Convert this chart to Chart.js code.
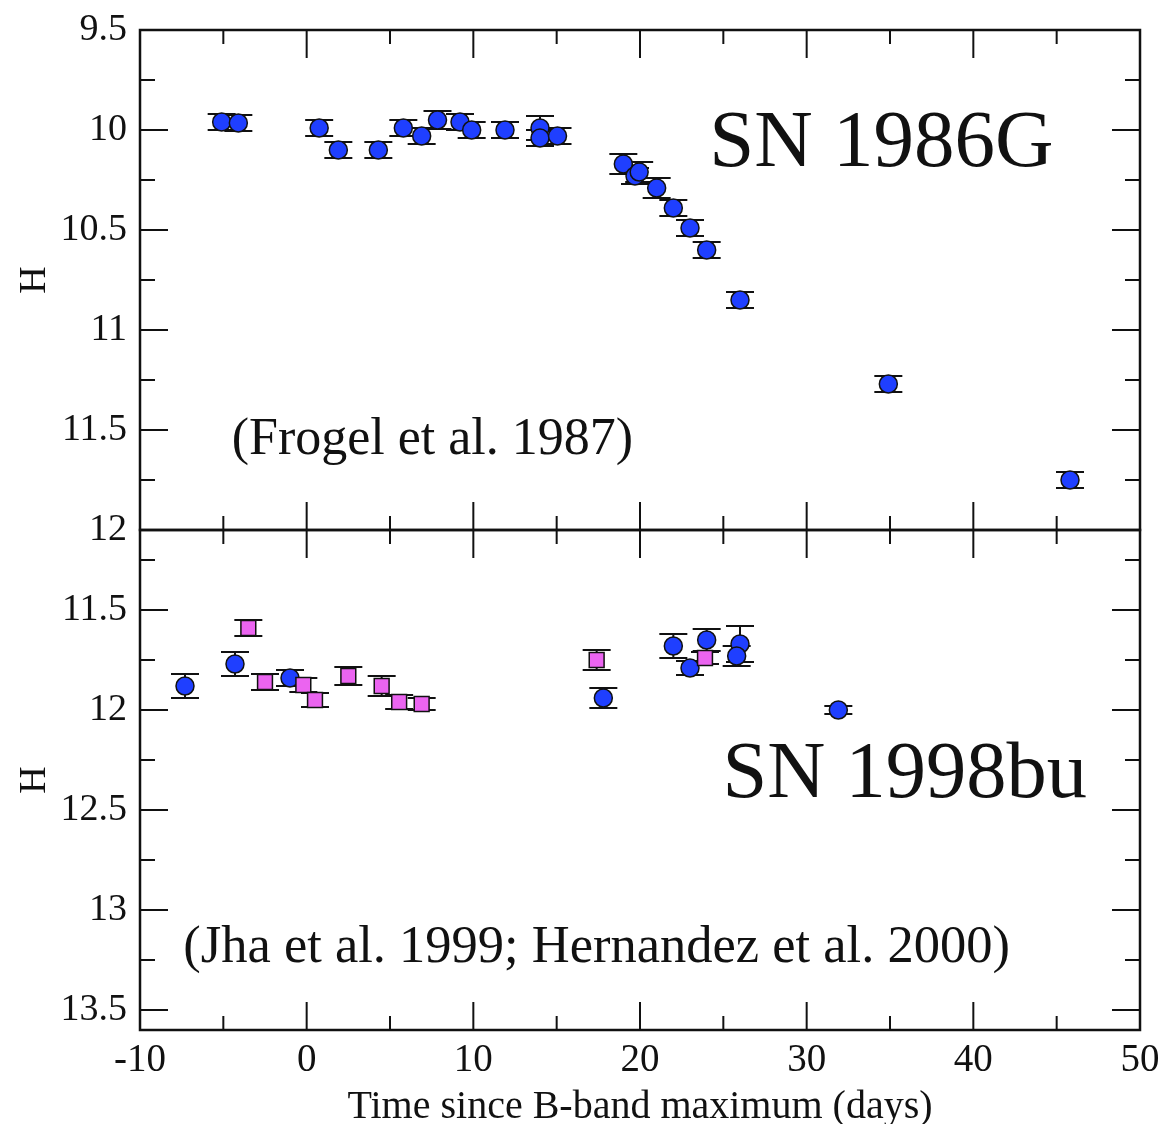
<!DOCTYPE html>
<html>
<head>
<meta charset="utf-8">
<script src="https://cdn.jsdelivr.net/npm/chart.js@4.4.1/dist/chart.umd.min.js"></script>
<style>
    html, body { margin: 0; padding: 0; background: #fff; }
    #wrap { position: relative; width: 1163px; height: 1124px; }
    .panel { position: absolute; left: 0; width: 1163px; }
    #topPanel { top: 0; height: 560px; }
    #botPanel { top: 500px; height: 624px; }
</style>
</head>
<body>
<div id="wrap">
    <div class="panel" id="topPanel"><canvas id="topChart"></canvas></div>
    <div class="panel" id="botPanel"><canvas id="botChart"></canvas></div>
</div>
<script>
// SN 1986G (Frogel et al. 1987)
const t86 = [-5.1, -4.1, 0.75, 1.9, 4.3, 5.8, 6.9, 7.85, 9.2, 9.9, 11.9, 14.0, 14.0, 15.05,
             19.0, 19.7, 19.95, 21.0, 22.0, 23.0, 24.0, 26.0, 34.9, 45.8];
const h86 = [9.96, 9.965, 9.99, 10.10, 10.10, 9.99, 10.03, 9.95, 9.96, 10.0, 10.0, 9.99, 10.04, 10.03,
             10.17, 10.23, 10.21, 10.29, 10.39, 10.49, 10.60, 10.85, 11.27, 11.75];
const e86 = [0.04, 0.04, 0.04, 0.04, 0.04, 0.04, 0.04, 0.045, 0.04, 0.04, 0.04, 0.06, 0.04, 0.04,
             0.05, 0.04, 0.05, 0.05, 0.04, 0.04, 0.04, 0.04, 0.04, 0.04];

// SN 1998bu, circles
const t98c = [-7.3, -4.3, -1.0, 17.8, 22.0, 23.0, 24.0, 26.0, 25.8, 31.9];
const h98c = [11.88, 11.77, 11.84, 11.94, 11.68, 11.79, 11.65, 11.67, 11.73, 12.0];
const e98c = [0.06, 0.06, 0.04, 0.05, 0.06, 0.035, 0.055, 0.09, 0.05, 0.02];

// SN 1998bu, squares
const t98s = [-3.5, -2.5, -0.2, 0.5, 2.5, 4.5, 5.55, 6.9, 17.4, 23.9];
const h98s = [11.59, 11.86, 11.875, 11.95, 11.83, 11.88, 11.96, 11.97, 11.75, 11.74];
const e98s = [0.04, 0.04, 0.035, 0.035, 0.045, 0.05, 0.035, 0.03, 0.05, 0.03];

// tick labels
const xTicks    = [-10, 0, 10, 20, 30, 40, 50];
const yTicksTop = [9.5, 10, 10.5, 11, 11.5, 12];
const yTicksBot = [11.5, 12, 12.5, 13, 13.5];

const BLUE    = '#1f3fff';
const MAGENTA = '#eb64f0';
const INK     = '#111';
const SERIF   = "'Liberation Serif', 'DejaVu Serif', serif";

const toPoints = (xs, ys, es) => xs.map((x, i) => ({ x, y: ys[i], err: es[i] }));
const onStep = (v, step) => Math.abs(v / step - Math.round(v / step)) < 1e-6;

// error bars, drawn under the markers
const errorBars = {
    id: 'errorBars',
    beforeDatasetsDraw(chart) {
        const { ctx, scales: { x, y } } = chart;
        ctx.save();
        ctx.strokeStyle = INK;
        ctx.lineWidth = 2;
        chart.data.datasets.forEach(ds => {
            ds.data.forEach(p => {
                const px = x.getPixelForValue(p.x);
                const y0 = y.getPixelForValue(p.y - p.err);
                const y1 = y.getPixelForValue(p.y + p.err);
                ctx.beginPath();
                ctx.moveTo(px, y0); ctx.lineTo(px, y1);
                ctx.moveTo(px - 14, y0); ctx.lineTo(px + 14, y0);
                ctx.moveTo(px - 14, y1); ctx.lineTo(px + 14, y1);
                ctx.stroke();
            });
        });
        ctx.restore();
    },
};

// box frame with inward ticks on all four sides
const frameTicks = {
    id: 'frameTicks',
    afterDatasetsDraw(chart) {
        const { ctx, chartArea: a, scales: { x, y } } = chart;
        const seg = (x0, y0, x1, y1) => { ctx.beginPath(); ctx.moveTo(x0, y0); ctx.lineTo(x1, y1); ctx.stroke(); };
        ctx.save();
        ctx.strokeStyle = INK;
        ctx.lineWidth = 2;
        for (let k = Math.ceil(x.min / 5); k * 5 <= x.max; k++) {
            const v = k * 5;
            const len = onStep(v, 10) ? 28 : 14;
            const px = x.getPixelForValue(v);
            seg(px, a.top, px, a.top + len);
            seg(px, a.bottom, px, a.bottom - len);
        }
        for (let k = Math.ceil(y.min / 0.25 - 1e-6); k * 0.25 <= y.max + 1e-6; k++) {
            const v = k * 0.25;
            const len = onStep(v, 0.5) ? 28 : 15;
            const py = y.getPixelForValue(v);
            seg(a.left, py, a.left + len, py);
            seg(a.right, py, a.right - len, py);
        }
        ctx.lineWidth = 2.5;
        ctx.strokeRect(a.left, a.top, a.right - a.left, a.bottom - a.top);
        ctx.restore();
    },
};

// in-plot labels, anchored in data units
const notes = {
    id: 'notes',
    afterDraw(chart, args, opts) {
        const { ctx, scales: { x, y } } = chart;
        ctx.save();
        ctx.fillStyle = INK;
        ctx.textAlign = 'left';
        ctx.textBaseline = 'alphabetic';
        (opts.items || []).forEach(n => {
            ctx.font = `${n.size}px ${SERIF}`;
            ctx.fillText(n.text, x.getPixelForValue(n.x), y.getPixelForValue(n.y));
        });
        ctx.restore();
    },
};

function makePanel(canvasId, datasets, yMin, yMax, yTicks, showX, items) {
    return new Chart(document.getElementById(canvasId).getContext('2d'), {
        type: 'scatter',
        data: { datasets },
        plugins: [errorBars, frameTicks, notes],
        options: {
            responsive: true,
            maintainAspectRatio: false,
            animation: false,
            layout: { padding: { left: 0, right: 23, top: 30, bottom: showX ? 0 : 30 } },
            scales: {
                x: {
                    type: 'linear',
                    min: -10,
                    max: 50,
                    display: showX,
                    afterBuildTicks: s => { s.ticks = xTicks.map(value => ({ value })); },
                    afterFit: s => {
                        if (showX) s.height = 94;
                        s.paddingLeft = 0;
                        s.paddingRight = 0;
                    },
                    grid: { display: false, drawTicks: false },
                    border: { display: false },
                    ticks: {
                        padding: 7,
                        color: INK,
                        font: { family: SERIF, size: 39 },
                        callback: v => String(v),
                    },
                    title: {
                        display: true,
                        text: 'Time since B-band maximum (days)',
                        color: INK,
                        font: { family: SERIF, size: 40, lineHeight: 0.85 },
                        padding: { top: 0, bottom: 0 },
                    },
                },
                y: {
                    type: 'linear',
                    reverse: true,
                    min: yMin,
                    max: yMax,
                    afterBuildTicks: s => { s.ticks = yTicks.map(value => ({ value })); },
                    afterFit: s => {
                        s.width = 140;
                        s.paddingTop = 0;
                        s.paddingBottom = 0;
                    },
                    grid: { display: false, drawTicks: false },
                    border: { display: false },
                    ticks: {
                        autoSkip: false,
                        padding: 13,
                        color: INK,
                        font: { family: SERIF, size: 38 },
                        callback: v => String(v),
                    },
                    title: {
                        display: true,
                        text: 'H',
                        color: INK,
                        font: { family: SERIF, size: 38, lineHeight: 1 },
                        padding: { top: 16, bottom: 0 },
                    },
                },
            },
            plugins: {
                legend: { display: false },
                tooltip: { enabled: false },
                notes: { items },
            },
        },
    });
}

const circleStyle = {
    pointStyle: 'circle',
    pointRadius: 9,
    pointBackgroundColor: BLUE,
    pointBorderColor: INK,
    pointBorderWidth: 1.5,
    showLine: false,
};

makePanel('topChart', [
    { label: 'SN 1986G', data: toPoints(t86, h86, e86), ...circleStyle },
], 9.5, 12, yTicksTop, false, [
    { text: 'SN 1986G', x: 24.15, y: 10.18, size: 81 },
    { text: '(Frogel et al. 1987)', x: -4.5, y: 11.62, size: 52 },
]);

makePanel('botChart', [
    {
        label: 'SN 1998bu (squares)',
        data: toPoints(t98s, h98s, e98s),
        order: 0,
        pointStyle: 'rect',
        pointRadius: 10.5,
        pointBackgroundColor: MAGENTA,
        pointBorderColor: INK,
        pointBorderWidth: 1.5,
        showLine: false,
    },
    { label: 'SN 1998bu (circles)', data: toPoints(t98c, h98c, e98c), order: 1, ...circleStyle },
], 11.1, 13.6, yTicksBot, true, [
    { text: 'SN 1998bu', x: 24.95, y: 12.435, size: 80.5 },
    { text: '(Jha et al. 1999; Hernandez et al. 2000)', x: -7.4, y: 13.26, size: 52.5 },
]);
</script>
</body>
</html>
